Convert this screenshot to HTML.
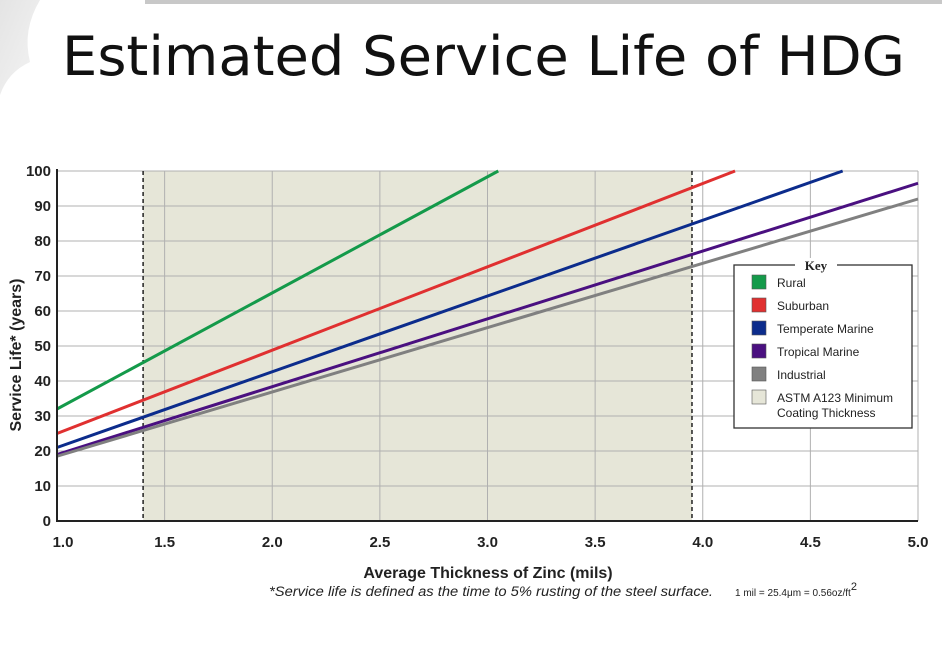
<!DOCTYPE html>
<html><head><meta charset="utf-8"><style>
body{margin:0;background:#fff;}
svg{display:block;font-family:"Liberation Sans",Arial,sans-serif;}
</style></head><body>
<svg id="chart" width="942" height="671" viewBox="0 0 942 671" xmlns="http://www.w3.org/2000/svg">
<defs>
<linearGradient id="dec" x1="0" y1="0" x2="1" y2="1"><stop offset="0" stop-color="#e4e4e4"/><stop offset="1" stop-color="#f4f4f4"/></linearGradient>
</defs>
<path d="M0,0 L40,0 Q22,30 30,62 Q8,72 0,95 Z" fill="url(#dec)"/>
<rect x="145" y="0" width="797" height="4" fill="#c8c8c8"/>
<text x="62" y="75" font-size="54" fill="#111" textLength="843" lengthAdjust="spacingAndGlyphs" style="font-family:'DejaVu Sans','Liberation Sans',sans-serif">Estimated Service Life of HDG</text>
<g id="plot"></g>
<text x="488" y="578" font-size="16" font-weight="bold" text-anchor="middle" fill="#222">Average Thickness of Zinc (mils)</text>
<text transform="translate(21,355) rotate(-90)" font-size="16" font-weight="bold" text-anchor="middle" fill="#222">Service Life* (years)</text>
<text x="269" y="596" font-size="13.5" font-style="italic" fill="#222" textLength="444" lengthAdjust="spacingAndGlyphs">*Service life is defined as the time to 5% rusting of the steel surface.</text>
<text x="735" y="596" font-size="10" fill="#222">1 mil = 25.4μm = 0.56oz/ft<tspan dy="-6" font-size="11">2</tspan></text>
<g>
<rect x="734" y="265" width="178" height="163" fill="#fff" stroke="#333" stroke-width="1.3"/>
<rect x="795" y="258" width="42" height="14" fill="#fff"/>
<text x="816" y="270" font-size="13" font-weight="bold" text-anchor="middle" fill="#222" style="font-family:'Liberation Serif',serif">Key</text>
<g id="legend-items"></g>
</g>
</svg>
<script>
const xTicks=[1.0,1.5,2.0,2.5,3.0,3.5,4.0,4.5,5.0];
const xTickLabels=["1.0","1.5","2.0","2.5","3.0","3.5","4.0","4.5","5.0"];
const yTicks=[0,10,20,30,40,50,60,70,80,90,100];
const seriesNames=["Rural","Suburban","Temperate Marine","Tropical Marine","Industrial"];
const seriesColors=["#149a4a","#e03030","#0c2c8c","#4a1080","#808080"];
const seriesStartX=[1.0,1.0,1.0,1.0,1.0];
const seriesStartY=[32,25,21,19,18.5];
const seriesEndX=[3.05,4.15,4.65,5.0,5.0];
const seriesEndY=[100,100,100,96.5,92];
const astmRange=[1.4,3.95];
const NS="http://www.w3.org/2000/svg";
const X0=57,X1=918,Y0=521,Y1=171;
const sx=v=>X0+(v-1)/(5-1)*(X1-X0);
const sy=v=>Y0-(v/100)*(Y0-Y1);
function mk(t,a,p){const e=document.createElementNS(NS,t);for(const k in a)e.setAttribute(k,a[k]);p.appendChild(e);return e;}
const g=document.getElementById('plot');
const bg=mk('rect',{x:X0,y:Y1,width:X1-X0,height:Y0-Y1,fill:'#fff'},g);


const sh=mk('rect',{x:sx(astmRange[0]),y:Y1,width:sx(astmRange[1])-sx(astmRange[0]),height:Y0-Y1,fill:'#e6e6d8'},g);


xTicks.forEach((v,i)=>{
 const l=mk('line',{x1:sx(v),x2:sx(v),y1:Y1,y2:Y0,stroke:'#b0b0b0','stroke-width':1},g);
 
 
 const t=mk('text',{x:sx(v)+(i===0?6:0),y:547,'font-size':15,'font-weight':'bold','text-anchor':'middle',fill:'#222'},g);
 t.textContent=xTickLabels[i];
 
 
});
yTicks.forEach(v=>{
 const l=mk('line',{x1:X0,x2:X1,y1:sy(v),y2:sy(v),stroke:'#b0b0b0','stroke-width':1},g);
 
 
 const t=mk('text',{x:51,y:sy(v)+5,'font-size':15,'font-weight':'bold','text-anchor':'end',fill:'#222'},g);
 t.textContent=String(v);
 
 
});
astmRange.forEach(v=>{
 const l=mk('line',{x1:sx(v),x2:sx(v),y1:Y1,y2:Y0,stroke:'#222','stroke-width':1.5,'stroke-dasharray':'4,3'},g);
 
 
});
seriesNames.forEach((n,i)=>{
 const l=mk('line',{x1:sx(seriesStartX[i]),y1:sy(seriesStartY[i]),x2:sx(seriesEndX[i]),y2:sy(seriesEndY[i]),stroke:seriesColors[i],'stroke-width':3},g);
 
 
});
const ax=mk('path',{d:`M${X0},${Y1-2} V${Y0} H${X1}`,fill:'none',stroke:'#222','stroke-width':2},g);


const lg=document.getElementById('legend-items');
const names=seriesNames.concat(["ASTM A123 Minimum"]);
const cols=seriesColors.concat(["#e6e6d8"]);
const rowsY=[283,306,329,352,375,398];
names.forEach((n,i)=>{
 const r=mk('rect',{x:752,y:rowsY[i]-8,width:14,height:14,fill:cols[i],stroke:'#555','stroke-width':0.6},lg);
 
 
 const t=mk('text',{x:777,y:rowsY[i]+4,'font-size':12,fill:'#222'},lg);
 t.textContent=n;
 
 
});
const t2=mk('text',{x:777,y:417,'font-size':12,fill:'#222'},lg);
t2.textContent="Coating Thickness";


</script>
</body></html>
